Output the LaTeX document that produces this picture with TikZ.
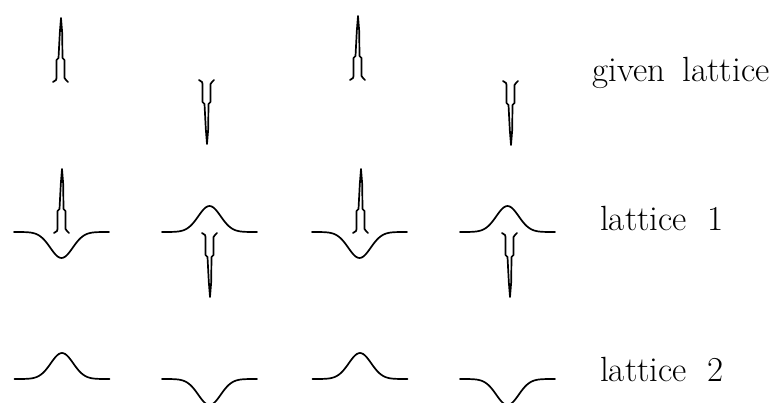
\documentclass[tikz,border=0pt]{standalone}
\begin{document}
\begin{tikzpicture}[x=1pt,y=-1pt,
  curve/.style={draw=black,line width=1.7pt,line join=round,line cap=round},
  lbl/.style={anchor=base west,inner sep=0pt,font=\fontsize{35}{42}\selectfont},
  upspike/.pic={\draw[curve] (-8,0) -- (-5,-2) -- (-4.5,-4) -- (-4.5,-22) -- (-2.5,-24) -- (-1.2,-49) -- (0,-64) -- (1.2,-49) -- (1.5,-24) -- (3.5,-22) -- (3.5,-4) -- (5,-2) -- (7,0);},
  gdip/.pic={\draw[curve] plot[domain=-47.5:47.5,samples=61,smooth] (\x,{26*exp(-\x*\x/250)});}
]
\useasboundingbox[fill=white] (0,0) rectangle (775,403);
% given lattice
\pic at (61,82) {upspike};
\pic[yscale=-1] at (207,80) {upspike};
\pic at (358,80) {upspike};
\pic[yscale=-1] at (511,81) {upspike};
\node[lbl] (t0) at (592,82) {given\hspace{0.5em}lattice};
% lattice 1
\pic at (61.5,232) {gdip};
\pic at (62,233) {upspike};
\pic[yscale=-1] at (209.5,232) {gdip};
\pic[yscale=-1] at (210,233) {upspike};
\pic at (359.5,232) {gdip};
\pic at (361,233) {upspike};
\pic[yscale=-1] at (507.5,232) {gdip};
\pic[yscale=-1] at (510,233) {upspike};
\node[lbl] (t1) at (600,230) {lattice\hspace{0.6em}1};
% lattice 2
\pic[yscale=-1] at (62,379) {gdip};
\pic at (209.5,379) {gdip};
\pic[yscale=-1] at (360,379) {gdip};
\pic at (507.5,379) {gdip};
\node[lbl] (t2) at (600,381) {lattice\hspace{0.6em}2};
\end{tikzpicture}
\end{document}
